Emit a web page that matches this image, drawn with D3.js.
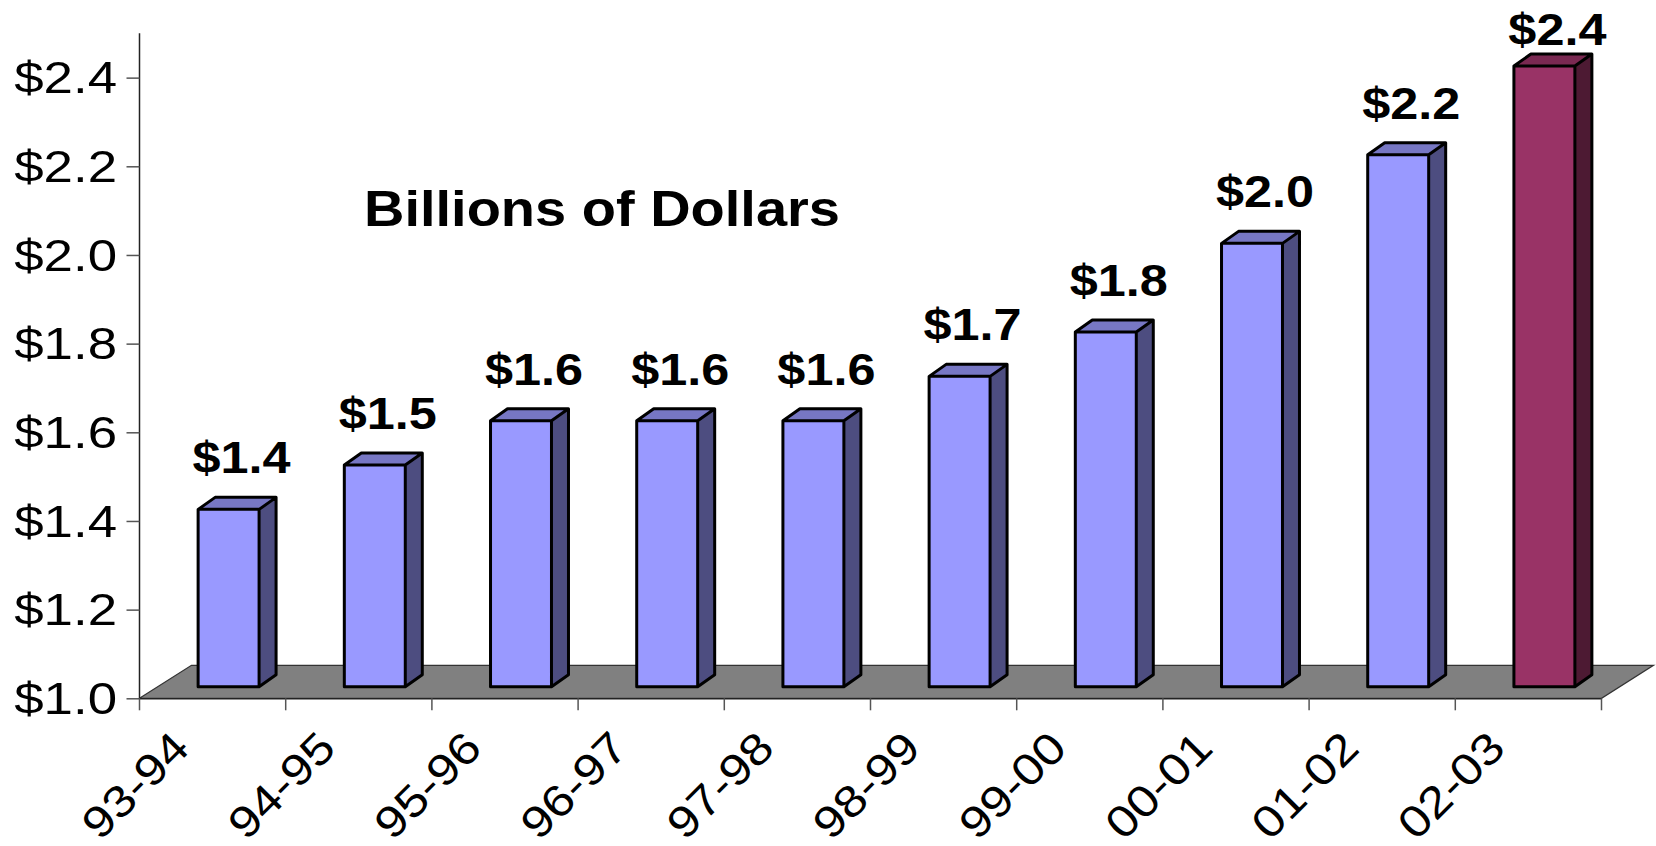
<!DOCTYPE html>
<html>
<head>
<meta charset="utf-8">
<script src="https://cdn.jsdelivr.net/npm/d3@7"></script>
<style>
  body { margin: 0; background: #fff; }
  text { font-family: "Liberation Sans", Arial, sans-serif; fill: #000; }
</style>
</head>
<body>
<div id="chart"></div>
<script>
// chart data
var years = ["93-94", "94-95", "95-96", "96-97", "97-98", "98-99", "99-00", "00-01", "01-02", "02-03"];
var billions = [1.4, 1.5, 1.6, 1.6, 1.6, 1.7, 1.8, 2.0, 2.2, 2.4];
var yTicks = [1.0, 1.2, 1.4, 1.6, 1.8, 2.0, 2.2, 2.4];
var chartTitle = "Billions of Dollars";

var svgWidth = 1656;
var svgHeight = 846;

var svg = d3.select("#chart")
  .append("svg")
  .attr("width", svgWidth)
  .attr("height", svgHeight);

svg.append("rect")
  .attr("width", svgWidth)
  .attr("height", svgHeight)
  .attr("fill", "#fff");

// scales
var xScale = d3.scaleBand()
  .domain(years)
  .range([139.5, 1601.5]);

var yScale = d3.scaleLinear()
  .domain([1.0, 2.5])
  .range([698.3, 33.3]);

var floorDepth = {dx: 52, dy: -33};   // full depth of the floor
var barShift = {dx: 16, dy: -11.6};   // front plane of the bars
var barDepth = {dx: 17, dy: -12};     // thickness of each bar
var barWidth = xScale.bandwidth() * 0.417;

var yBase = yScale(1.0);
var xLeft = xScale.range()[0];
var xRight = xScale.range()[1];

// floor
svg.append("path")
  .attr("d", `M${xLeft},${yBase} L${xLeft + floorDepth.dx},${yBase + floorDepth.dy} L${xRight + floorDepth.dx},${yBase + floorDepth.dy} L${xRight},${yBase} Z`)
  .attr("fill", "#808080")
  .attr("stroke", "#333")
  .attr("stroke-width", 1.2);

// y axis
var leftAxis = d3.axisLeft(yScale)
  .tickValues(yTicks)
  .tickSize(13)
  .tickFormat("");

var yAxis = svg.append("g")
  .attr("transform", `translate(${xLeft}, 0)`)
  .call(leftAxis);
yAxis.select(".domain")
  .attr("d", `M0,${yScale.range()[1]}V${yBase}`)
  .attr("stroke", "#222")
  .attr("stroke-width", 1.5);
yAxis.selectAll(".tick line").attr("stroke", "#555").attr("stroke-width", 1.5);

svg.append("g").selectAll("text")
  .data(yTicks)
  .enter()
  .append("text")
  .attr("transform", d => `translate(117, ${yScale(d)}) scale(1.2, 1)`)
  .attr("dy", "0.36em")
  .attr("text-anchor", "end")
  .style("font-size", "44px")
  .text(d => "$" + d.toFixed(1));

// x axis along the front of the floor
var bottomAxis = d3.axisBottom(xScale)
  .tickValues([])
  .tickSizeOuter(0);
var xAxis = svg.append("g")
  .attr("transform", `translate(0, ${yBase})`)
  .call(bottomAxis);
xAxis.select(".domain").attr("stroke", "#222").attr("stroke-width", 1.5);

xAxis.selectAll("line.sep")
  .data(d3.range(years.length + 1))
  .enter()
  .append("line")
  .attr("class", "sep")
  .attr("x1", i => xLeft + i * xScale.step())
  .attr("x2", i => xLeft + i * xScale.step())
  .attr("y1", 0)
  .attr("y2", 12)
  .attr("stroke", "#555")
  .attr("stroke-width", 1.5);

// rotated category labels
svg.append("g").selectAll("text")
  .data(years)
  .enter()
  .append("text")
  .attr("transform", d => `translate(${xScale(d) + xScale.bandwidth() / 2 - 21}, ${yBase + 52}) rotate(-45) scale(1.15, 1)`)
  .attr("text-anchor", "end")
  .style("font-size", "44px")
  .text(d => d);

// 3d bars
var bars = svg.append("g").selectAll("g")
  .data(billions)
  .enter()
  .append("g");

function colorsFor(i) {
  if (i === billions.length - 1) {
    return {front: "#993366", side: "#4D1A33", top: "#7A2952"};
  }
  return {front: "#9999FF", side: "#4D4D80", top: "#7777C4"};
}

function barGeom(d, i) {
  var x = xScale(years[i]) + (xScale.bandwidth() - barWidth) / 2 + barShift.dx;
  var top = yScale(d) + barShift.dy;
  var bottom = yBase + barShift.dy;
  return {x: x, top: top, bottom: bottom};
}

// side face
bars.append("path")
  .attr("d", (d, i) => {
    var g = barGeom(d, i);
    var r = g.x + barWidth;
    return `M${r},${g.bottom} L${r + barDepth.dx},${g.bottom + barDepth.dy} L${r + barDepth.dx},${g.top + barDepth.dy} L${r},${g.top} Z`;
  })
  .attr("fill", (d, i) => colorsFor(i).side);

// top face
bars.append("path")
  .attr("d", (d, i) => {
    var g = barGeom(d, i);
    var r = g.x + barWidth;
    return `M${g.x},${g.top} L${g.x + barDepth.dx},${g.top + barDepth.dy} L${r + barDepth.dx},${g.top + barDepth.dy} L${r},${g.top} Z`;
  })
  .attr("fill", (d, i) => colorsFor(i).top);

// front face
bars.append("rect")
  .attr("x", (d, i) => barGeom(d, i).x)
  .attr("y", (d, i) => barGeom(d, i).top)
  .attr("width", barWidth)
  .attr("height", (d, i) => barGeom(d, i).bottom - barGeom(d, i).top)
  .attr("fill", (d, i) => colorsFor(i).front);

// outline of the whole box
bars.append("path")
  .attr("d", (d, i) => {
    var g = barGeom(d, i);
    var r = g.x + barWidth;
    var dx = barDepth.dx, dy = barDepth.dy;
    return `M${g.x},${g.bottom} L${r},${g.bottom} L${r + dx},${g.bottom + dy} L${r + dx},${g.top + dy} L${g.x + dx},${g.top + dy} L${g.x},${g.top} Z ` +
      `M${g.x},${g.top} L${r},${g.top} L${r + dx},${g.top + dy} M${r},${g.top} L${r},${g.bottom}`;
  })
  .attr("fill", "none")
  .attr("stroke", "#000")
  .attr("stroke-width", 3)
  .attr("stroke-linejoin", "round");

// value labels
bars.append("text")
  .attr("transform", (d, i) => {
    var g = barGeom(d, i);
    var lx = g.x + barWidth / 2 + 13;
    var ly = Math.max(g.top + barDepth.dy - 24, 45);
    return `translate(${lx}, ${ly}) scale(1.12, 1)`;
  })
  .attr("text-anchor", "middle")
  .style("font-size", "45px")
  .style("font-weight", "bold")
  .text(d => "$" + d.toFixed(1));

// title inside the plot
svg.append("text")
  .attr("transform", "translate(364, 226) scale(1.12, 1)")
  .style("font-size", "50px")
  .style("font-weight", "bold")
  .text(chartTitle);
</script>
</body>
</html>
